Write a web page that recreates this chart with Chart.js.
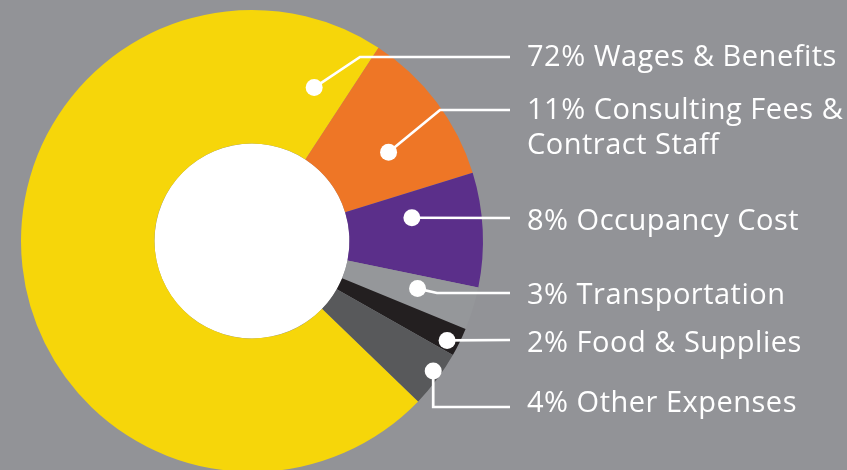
<!DOCTYPE html>
<html>
<head>
<meta charset="utf-8">
<script src="https://cdn.jsdelivr.net/npm/chart.js@4.4.1/dist/chart.umd.min.js"></script>
<style>
  html,body{margin:0;padding:0;overflow:hidden;background:#929397;}
  #wrap{position:absolute;left:0;top:0;width:847px;height:482px;}
</style>
</head>
<body>
<div id="wrap"><canvas id="c" width="847" height="482"></canvas></div>
<script>
// data
const categories=[['Wages & Benefits'],['Consulting Fees &','Contract Staff'],['Occupancy Cost'],['Transportation'],['Food & Supplies'],['Other Expenses']];
const values=[72,11,8,3,2,4];
const colors=['#f6d60a','#ee7626','#5b2f8a','#95979a','#231f20','#58595b'];

// where the white dot sits inside each slice (t = along arc, r = across ring)
const dotAt=[{t:.957,r:.51},{t:.6,r:.49},{t:.31,r:.48},{t:.41,r:.56},{t:.64,r:.91},{t:.42,r:.94}];
// leader line: y of horizontal run, elbow x (null = straight, 'v' = vertical drop)
const leaderY=[57,110,218,293,340,407];
const elbowX=[360,440,null,437,null,'v'];
const textY=[[66],[119,154],[230],[304],[352],[412]];
const LINE_END=510, TEXT_X=527;

const leaders={id:'leaders',
  beforeDatasetsDraw(chart){
    const a=chart.getDatasetMeta(0).data[0]; const ctx=chart.ctx;
    ctx.save();ctx.fillStyle='#fff';ctx.beginPath();ctx.arc(a.x,a.y,a.innerRadius,0,Math.PI*2);ctx.fill();ctx.restore();
  },
  afterDatasetsDraw(chart){
    const ctx=chart.ctx; const arcs=chart.getDatasetMeta(0).data;
    ctx.save();
    ctx.strokeStyle='#fff';ctx.fillStyle='#fff';ctx.lineWidth=2.7;ctx.lineJoin='miter';
    arcs.forEach((el,i)=>{
      const {x,y,startAngle,endAngle,innerRadius,outerRadius}=el;
      const ang=startAngle+dotAt[i].t*(endAngle-startAngle);
      const rr=innerRadius+dotAt[i].r*(outerRadius-innerRadius);
      const dx=x+rr*Math.cos(ang), dy=y+rr*Math.sin(ang);
      const ly=leaderY[i];
      ctx.beginPath();ctx.moveTo(dx,dy);
      if(elbowX[i]==='v') ctx.lineTo(dx,ly);
      else if(elbowX[i]!=null) ctx.lineTo(elbowX[i],ly);
      ctx.lineTo(LINE_END,ly);ctx.stroke();
      ctx.beginPath();ctx.arc(dx,dy,8.5,0,Math.PI*2);ctx.fill();
    });
    ctx.font='29px "Open Sans"';ctx.textBaseline='alphabetic';ctx.textAlign='left';
    ctx.letterSpacing='0.5px';
    categories.forEach((lines,i)=>{
      lines.forEach((ln,j)=>{
        const txt=j===0?values[i]+'% '+ln:ln;
        ctx.fillText(txt,TEXT_X,textY[i][j]);
      });
    });
    ctx.restore();
  }
};

new Chart(document.getElementById('c'),{
  type:'doughnut',
  data:{labels:categories.map(c=>c.join(' ')),datasets:[{data:values,backgroundColor:colors,borderWidth:0,hoverOffset:0}]},
  options:{
    responsive:false,animation:false,
    rotation:134,cutout:'42.2%',
    layout:{padding:{left:21,top:10,right:364,bottom:10}},
    plugins:{legend:{display:false},tooltip:{enabled:false}}
  },
  plugins:[leaders]
});
</script>
</body>
</html>
